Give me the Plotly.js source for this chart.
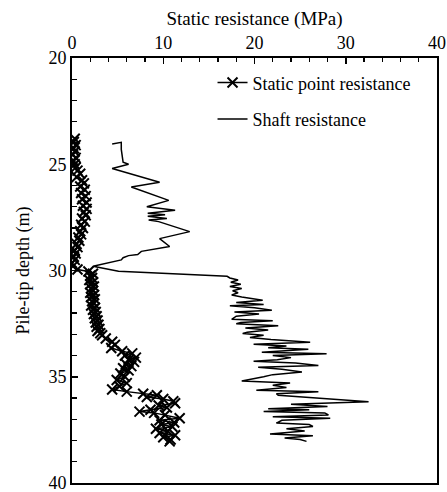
<!DOCTYPE html>
<html>
<head>
<meta charset="utf-8">
<script src="https://cdn.plot.ly/plotly-3.0.1.min.js"></script>
<style>html,body{margin:0;padding:0;background:#fff;}#chart{width:447px;height:492px;}</style>
</head>
<body>
<div id="chart"></div>
<script>
// Static point resistance (MPa) vs pile-tip depth (m)
const pointDepth = [23.8,23.95,24.1,24.25,24.4,24.55,24.7,24.85,25.0,25.15,25.3,25.45,25.6,25.75,25.9,26.05,26.2,26.35,26.5,26.65,26.8,26.95,27.1,27.25,27.4,27.55,27.7,27.85,28.0,28.15,28.3,28.45,28.6,28.75,28.9,29.05,29.2,29.35,29.5,29.65,29.8,29.95,30.05,30.15,30.25,30.35,30.45,30.55,30.65,30.75,30.85,30.95,31.05,31.15,31.25,31.35,31.45,31.55,31.65,31.75,31.85,31.95,32.05,32.15,32.25,32.35,32.45,32.55,32.65,32.75,32.85,32.95,33.05,33.2,33.35,33.5,33.65,33.8,33.9,34.0,34.1,34.2,34.3,34.4,34.5,34.6,34.7,34.85,35.0,35.15,35.3,35.45,35.6,35.7,35.8,35.87,35.95,36.05,36.15,36.25,36.35,36.45,36.55,36.64,36.7,36.8,36.95,37.05,37.15,37.25,37.35,37.45,37.55,37.65,37.75,37.85,37.95,38.04];
const pointVal = [0.3,0.2,0.4,0.2,0.3,0.1,0.4,0.2,0.3,0.4,0.6,0.9,0.5,1.1,1.3,0.9,1.4,1.0,1.5,1.1,1.6,1.2,1.6,1.3,1.5,1.1,1.4,1.0,1.2,0.9,1.0,0.7,0.8,0.5,0.6,0.3,0.4,0.2,0.3,0.0,0.1,0.6,1.8,2.3,2.0,2.2,1.9,2.3,2.0,2.4,2.1,2.3,2.0,2.4,2.1,2.5,2.2,2.4,2.1,2.5,2.3,2.6,2.4,2.7,2.5,2.8,2.6,2.9,2.7,3.0,2.8,3.1,3.3,3.7,4.4,4.7,4.3,5.5,6.6,5.8,7.0,6.2,6.8,5.9,6.5,5.6,6.2,5.3,5.8,4.9,6.0,5.2,4.4,6.0,7.8,9.3,8.2,10.0,11.1,11.3,9.5,10.4,8.6,7.4,9.0,10.2,11.8,9.6,11.2,9.8,11.0,9.2,10.5,9.6,11.3,10.0,10.8,10.7];

// Shaft resistance (MPa) vs pile-tip depth (m)
const shaftDepth = [24.05,23.97,24.3,24.9,25.0,25.2,25.85,26.07,26.7,27.0,27.16,27.3,27.38,27.45,27.55,27.62,27.7,28.17,28.5,28.87,29.1,29.25,29.3,29.4,29.5,29.8,30.04,30.27,30.35,30.45,30.55,30.65,30.75,30.85,30.95,31.05,31.15,31.25,31.4,31.5,31.6,31.66,31.75,31.87,31.95,32.05,32.15,32.3,32.36,32.45,32.5,32.6,32.7,32.8,32.9,32.97,33.05,33.15,33.25,33.38,33.47,33.55,33.63,33.7,33.85,33.92,34.0,34.1,34.2,34.27,34.35,34.47,34.55,34.65,34.78,34.9,35.0,35.2,35.29,35.4,35.5,35.63,35.71,35.8,35.87,36.18,36.3,36.4,36.5,36.55,36.64,36.7,36.8,36.88,36.95,37.05,37.18,37.25,37.34,37.45,37.55,37.69,37.78,37.88,37.95,38.04];
const shaftVal = [4.4,5.4,5.4,5.6,6.2,4.4,9.6,6.5,10.6,8.2,11.3,8.3,10.2,8.3,10.4,8.4,9.5,12.9,9.6,10.7,7.6,7.2,6.2,5.6,5.4,2.3,5.1,17.0,17.3,18.2,17.4,18.5,17.3,18.6,17.6,18.2,17.5,18.6,20.9,18.0,21.0,17.3,20.0,21.9,17.8,20.5,18.0,17.5,22.0,18.5,18.0,22.6,19.0,21.5,19.2,18.7,21.0,19.5,21.8,26.1,19.9,23.5,21.5,25.9,20.8,27.9,22.0,24.0,22.5,19.9,24.5,27.0,20.4,23.0,25.2,22.0,21.0,18.6,23.9,22.0,23.5,20.2,27.0,22.4,22.6,32.5,24.0,28.0,21.5,26.0,21.0,27.7,28.1,22.0,28.3,23.0,22.4,26.0,26.4,23.5,25.5,21.7,26.4,23.3,25.0,25.7];

const xTicks = [0,10,20,30,40];
const yTicks = [20,25,30,35,40];

const font = "Liberation Serif";

const traces = [
  {
    x: pointVal, y: pointDepth, type: "scatter", mode: "lines+markers",
    name: "Static point resistance", legendgroup: "a",
    line: {color: "#000", width: 1.5},
    marker: {symbol: "x-thin", size: 10, line: {color: "#000", width: 2}, color: "#000"}
  },
  {
    x: shaftVal, y: shaftDepth, type: "scatter", mode: "lines",
    name: "Shaft resistance", legendgroup: "b",
    line: {color: "#000", width: 1.5}
  }
];

const layout = {
  width: 447, height: 492,
  margin: {l: 72, r: 10, t: 58, b: 9},
  paper_bgcolor: "#fff", plot_bgcolor: "#fff",
  font: {family: font, size: 16, color: "#000"},
  showlegend: true,
  legend: {x: 0.385, y: 0.985, xanchor: "left", yanchor: "top", bgcolor: "rgba(0,0,0,0)",
           font: {family: font, size: 18, color: "#000"}, tracegroupgap: 10, itemwidth: 30},
  xaxis: {
    side: "top", range: [0, 40], tickvals: xTicks, ticktext: xTicks.map(String),
    ticks: "inside", ticklen: 6, tickwidth: 1.5, tickcolor: "#000",
    minor: {dtick: 2, ticks: "inside", ticklen: 4, tickwidth: 1.2, tickcolor: "#000"},
    showline: true, linecolor: "#000", linewidth: 2, mirror: true,
    showgrid: false, zeroline: false, ticklabeloverflow: "allow",
    tickfont: {family: font, size: 18},
    title: {text: "Static resistance (MPa)", font: {family: font, size: 19}, standoff: 2}
  },
  yaxis: {
    range: [40, 20], tickvals: yTicks, ticktext: yTicks.map(String),
    ticks: "inside", ticklen: 6, tickwidth: 1.5, tickcolor: "#000",
    minor: {dtick: 1, ticks: "inside", ticklen: 5, tickwidth: 1.2, tickcolor: "#000"},
    showline: true, linecolor: "#000", linewidth: 2, mirror: true,
    showgrid: false, zeroline: false, ticklabeloverflow: "allow",
    tickfont: {family: font, size: 18},
    title: {text: "Pile-tip depth (m)", font: {family: font, size: 18}, standoff: 14}
  }
};

Plotly.newPlot("chart", traces, layout, {displayModeBar: false, staticPlot: true});
</script>
</body>
</html>
